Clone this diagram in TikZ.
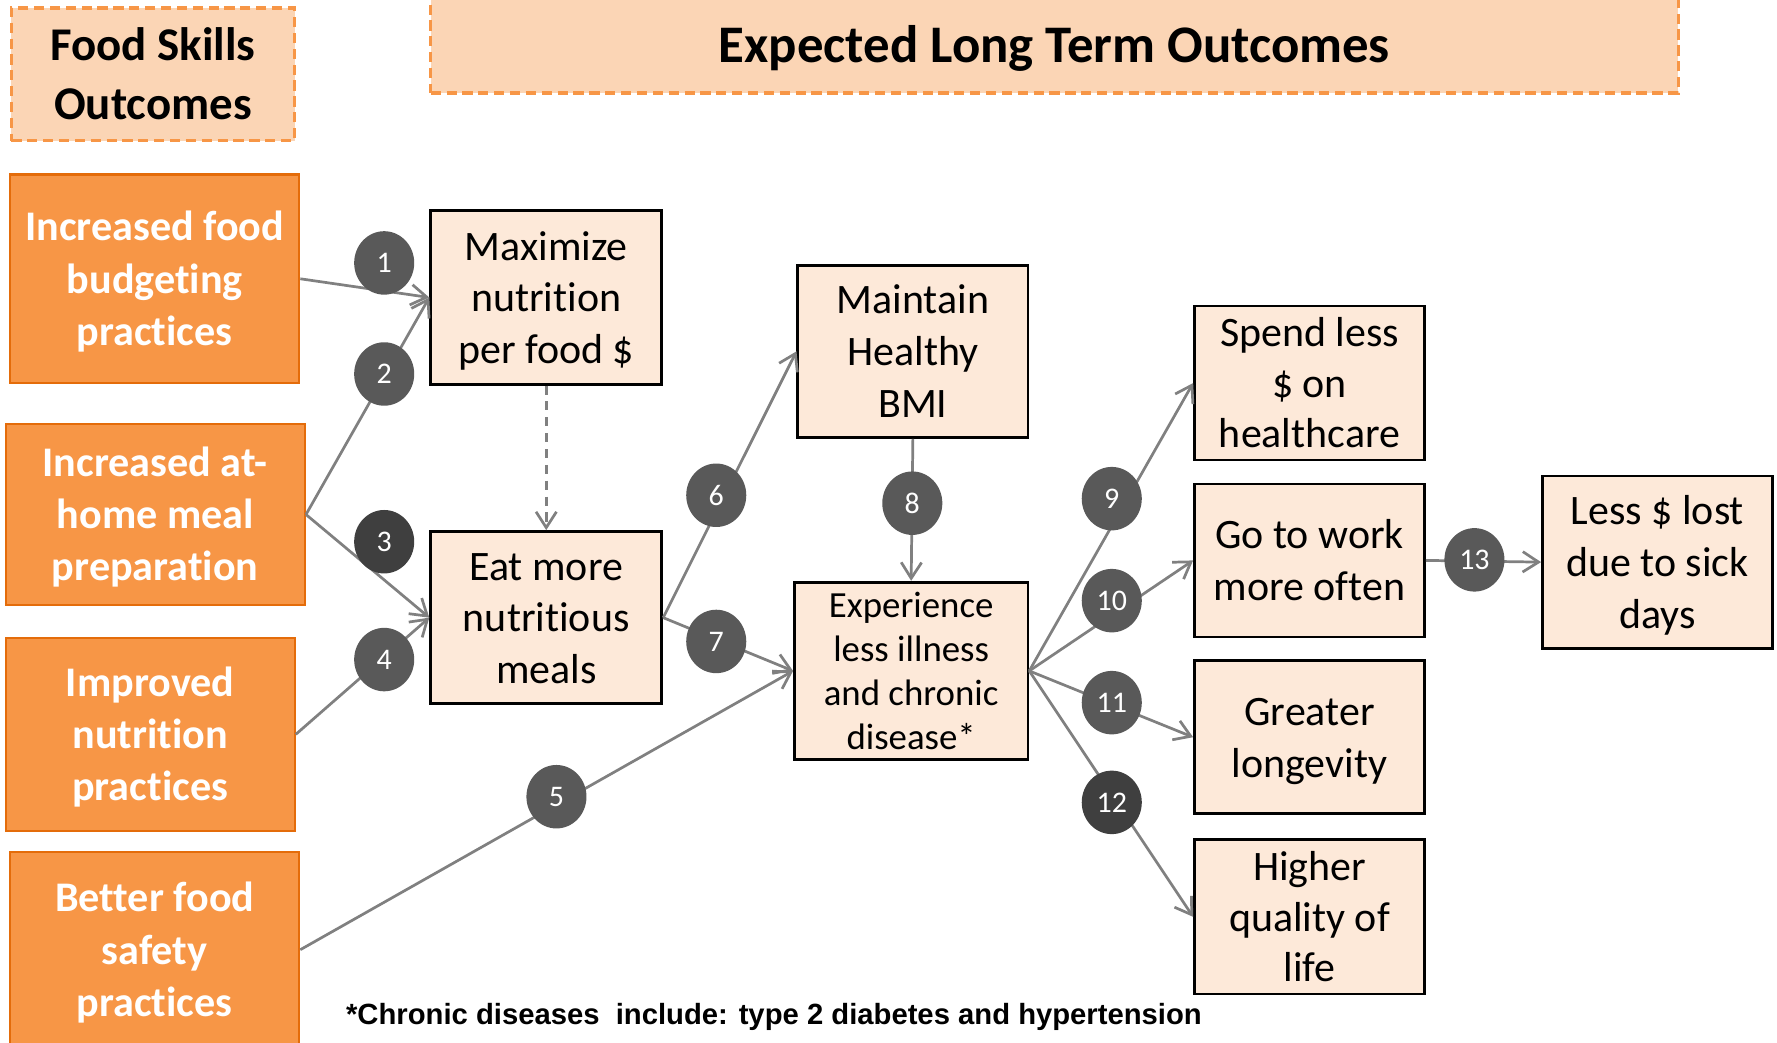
\documentclass[tikz,border=0pt]{standalone}
\usepackage{fontspec}
\setmainfont{Carlito}[Ligatures=NoCommon]
\newfontfamily\notefont{Liberation Sans}
\usetikzlibrary{arrows.meta,shapes.geometric}

\definecolor{orangefill}{HTML}{F79646}
\definecolor{orangeline}{HTML}{E46C0A}
\definecolor{headfill}{HTML}{FBD5B5}
\definecolor{boxfill}{HTML}{FDE9D9}
\definecolor{badge}{HTML}{595959}
\definecolor{badgedark}{HTML}{3F3F3F}
\definecolor{linkgray}{HTML}{808080}

% struts on the first and last line centre a text block on its full line boxes
\newcommand\firstln{\rule{0pt}{0.95em}}
\newcommand\lastln{\rule[-0.27em]{0pt}{0.27em}}

\begin{document}
\begin{tikzpicture}[x=0.5pt,y=-0.5pt,
  header/.style={draw=orangefill, dash pattern=on 4.5pt off 2.5pt, line width=1.5pt,
    fill=headfill, inner sep=0pt, align=center,
    font=\bfseries\fontsize{20.7}{26}\selectfont},
  skill/.style={draw=orangeline, line width=1pt, fill=orangefill, inner sep=0pt,
    align=center, text=white, font=\bfseries\fontsize{18.6}{23}\selectfont},
  outcome/.style={draw=black, line width=1.2pt, fill=boxfill, inner sep=0pt,
    align=center, font=\fontsize{18.5}{22.8}\selectfont},
  badgenode/.style={ellipse, fill=badge, inner sep=0pt, minimum width=26.5pt,
    minimum height=28pt, text=white, font=\fontsize{13.2}{15}\selectfont},
  link/.style={draw=linkgray, line width=1.2pt, -{Straight Barb[length=7pt,width=9pt]}},
]
\useasboundingbox (0,0) rectangle (1568,920);

% column headers
\node[header, minimum width=125pt, minimum height=58.5pt] (fso) at (135,65.5)
  {\firstln Food Skills\\Outcomes\lastln};
\node[header, minimum width=550.5pt, minimum height=43pt,
  font=\bfseries\fontsize{23.3}{28}\selectfont] (elto) at (930.5,39)
  {\firstln Expected Long Term Outcomes\lastln};

% food skills outcomes
\node[skill, minimum width=127.5pt, minimum height=92pt] (budget) at (136.5,246)
  {\firstln Increased food\\budgeting\\practices\lastln};
\node[skill, minimum width=132pt, minimum height=80pt] (home) at (137,454)
  {\firstln Increased at-\\home meal\\preparation\lastln};
\node[skill, minimum width=127.5pt, minimum height=85pt] (nutr) at (132.5,648)
  {\firstln Improved\\nutrition\\practices\lastln};
\node[skill, minimum width=127.5pt, minimum height=86pt] (safe) at (136.5,838)
  {\firstln Better food\\safety\\practices\lastln};

% long term outcomes
\node[outcome, minimum width=102pt, minimum height=76.5pt] (maxn) at (482,262.5)
  {\firstln Maximize\\nutrition\\per food \$\lastln};
\node[outcome, minimum width=102pt, minimum height=76pt] (eat) at (482,545)
  {\firstln Eat more\\nutritious\\meals\lastln};
\node[outcome, minimum width=101.5pt, minimum height=76pt] (bmi) at (805.5,310)
  {\firstln Maintain\\Healthy\\BMI\lastln};
\node[outcome, minimum width=103pt, minimum height=76pt,
  font=\fontsize{16.25}{19.5}\selectfont] (ill) at (804,592)
  {\firstln Experience\\less illness\\and chronic\\disease*\lastln};
\node[outcome, minimum width=101.5pt, minimum height=68pt,
  font=\fontsize{18.5}{22.3}\selectfont] (spend) at (1155.5,338)
  {\firstln Spend less\\\$ on\\healthcare\lastln};
\node[outcome, minimum width=101.5pt, minimum height=67.5pt] (work) at (1155.5,494.5)
  {\firstln Go to work\\more often\lastln};
\node[outcome, minimum width=101.5pt, minimum height=67.5pt] (long) at (1155.5,650.5)
  {\firstln Greater\\longevity\lastln};
\node[outcome, minimum width=101.5pt, minimum height=68pt,
  font=\fontsize{18.5}{22.3}\selectfont] (qual) at (1155.5,809)
  {\firstln Higher\\quality of\\life\lastln};
\node[outcome, minimum width=101.5pt, minimum height=76pt] (sick) at (1462.5,496)
  {\firstln Less \$ lost\\due to sick\\days\lastln};

% connectors
\draw[link] (budget.east) -- (maxn.west);
\draw[link] (home.east) -- (maxn.west);
\draw[link] (home.east) -- (eat.west);
\draw[link] (nutr.east) -- (eat.west);
\draw[link] (safe.east) -- (ill.west);
\draw[link] (eat.east) -- (bmi.west);
\draw[link] (eat.east) -- (ill.west);
\draw[link] (bmi.south) -- (ill.north);
\draw[link] (ill.east) -- (spend.west);
\draw[link] (ill.east) -- (work.west);
\draw[link] (ill.east) -- (long.west);
\draw[link] (ill.east) -- (qual.west);
\draw[link] (work.east) -- (sick.west);
\draw[link, dash pattern=on 4pt off 3pt] (maxn.south) -- (eat.north);

% numbered pathway markers
\node[badgenode] (c1) at (339,232) {1};
\node[badgenode] (c2) at (339,330) {2};
\node[badgenode, fill=badgedark] (c3) at (339,478) {3};
\node[badgenode] (c4) at (339,582) {4};
\node[badgenode] (c5) at (491,703) {5};
\node[badgenode] (c6) at (632,437) {6};
\node[badgenode] (c7) at (632,566) {7};
\node[badgenode] (c8) at (805,444) {8};
\node[badgenode] (c9) at (981,440) {9};
\node[badgenode] (c10) at (981,530) {10};
\node[badgenode] (c11) at (981,620) {11};
\node[badgenode, fill=badgedark] (c12) at (981,708) {12};
\node[badgenode] (c13) at (1301,494) {13};

% footnote
\node[anchor=west, inner sep=0pt, font=\notefont\bfseries\fontsize{12.9}{15}\selectfont]
  (note) at (305,897) {*Chronic diseases\ \ include: type 2 diabetes and hypertension};
\end{tikzpicture}
\end{document}
